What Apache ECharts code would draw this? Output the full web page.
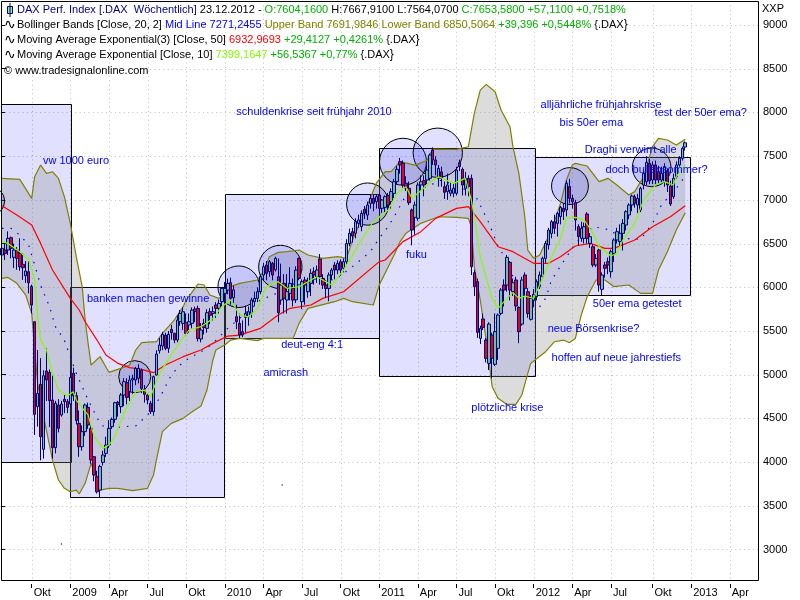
<!DOCTYPE html>
<html lang="de">
  <head>
    <meta charset="UTF-8" />
    <title>DAX Perf. Index</title>
    <script src="https://cdn.jsdelivr.net/npm/echarts@6/dist/echarts.min.js"></script>
    <style>
      html, body { margin: 0; padding: 0; background: #fff; }
    </style>
  </head>
  <body>
    <div id="main" style="width: 800px; height: 600px"></div>
    <script>
      // axis
      var weekCount = 255;
      var tickWeeks = [10, 23, 36, 49, 62, 75, 88, 101, 114, 127, 140, 153, 166, 179, 192, 205, 219, 232, 245];
      var tickLabels = ["Okt", "2009", "Apr", "Jul", "Okt", "2010", "Apr", "Jul", "Okt", "2011", "Apr", "Jul", "Okt", "2012", "Apr", "Jul", "Okt", "2013", "Apr"];
      var priceTicks = [3000, 3500, 4000, 4500, 5000, 5500, 6000, 6500, 7000, 7500, 8000, 8500, 9000];

      // weekly candles: open, close, low, high
      var candles = [
        [6369,6445,6254,6521],[6426,6388,6311,6502],[6426,6559,6370,6640],[6567,6445,6330,6580],[6342,6426,6220,6500],
        [6426,6330,6200,6460],[6388,6235,6190,6560],[6262,6224,6085,6390],[6132,6186,6050,6300],[6178,6052,5930,6300],
        [6010,5797,5700,6030],[5606,4546,4310,5606],[4634,4786,4405,5282],[4889,4290,4020,5190],[4146,4988,4040,5050],
        [5042,4939,4700,5300],[5027,4702,4400,5060],[4710,4165,4040,4990],[4165,4672,4100,4700],[4653,4386,4340,4720],
        [4538,4664,4520,4700],[4718,4691,4560,4770],[4691,4626,4560,4720],[4664,4969,4640,5040],[5015,4756,4700,5080],
        [4760,4474,4430,4800],[4443,4176,4060,4590],[4176,4348,4130,4420],[4348,4653,4300,4670],[4626,4424,4380,4680],
        [4386,4024,3980,4420],[4062,3852,3780,4070],[3833,3660,3640,3900],[3680,3950,3590,3970],[3997,4081,3960,4130],
        [4100,4195,4060,4290],[4195,4386,4160,4480],[4405,4489,4380,4510],[4489,4680,4450,4690],[4683,4660,4520,4700],
        [4634,4767,4560,4790],[4767,4920,4640,4960],[4908,4740,4660,4960],[4805,4939,4700,4990],[4939,4958,4780,5000],
        [4939,5072,4880,5090],[4958,5072,4900,5120],[5053,4843,4790,5070],[4824,4775,4680,4880],[4767,4710,4660,4790],
        [4672,4576,4550,4700],[4576,4977,4530,4990],[4996,5236,4990,5280],[5274,5339,5240,5420],[5328,5461,5280,5490],
        [5453,5301,5280,5480],[5301,5461,5250,5500],[5518,5480,5400,5570],[5473,5396,5360,5480],[5396,5625,5370,5680],
        [5606,5701,5560,5740],[5587,5720,5510,5770],[5598,5472,5450,5700],[5568,5606,5480,5700],[5587,5739,5530,5770],
        [5751,5721,5600,5780],[5758,5415,5380,5790],[5408,5511,5370,5590],[5587,5540,5460,5640],[5530,5709,5480,5750],
        [5721,5680,5580,5760],[5700,5720,5620,5780],[5797,5758,5650,5830],[5760,5815,5700,5860],[5835,5987,5780,6000],
        [5930,5987,5850,6060],[5968,6044,5920,6100],[6052,5873,5800,6110],[5880,5970,5820,6020],[5663,5606,5520,5800],
        [5587,5454,5420,5700],[5492,5454,5430,5620],[5656,5700,5480,5790],[5663,5720,5560,5780],[5701,5854,5650,5880],
        [5835,5873,5780,5950],[5873,5949,5830,6000],[5949,6121,5920,6150],[6140,6235,6080,6280],[6254,6159,6080,6300],
        [6178,6292,6120,6310],[6273,6140,6080,6290],[6200,6330,6180,6350],[6121,5709,5600,6330],[5854,6025,5800,6270],
        [6045,5873,5700,6150],[5854,5949,5700,6150],[5930,6045,5850,6230],[5987,5854,5780,6100],[5856,6197,5820,6240],
        [6330,6102,6080,6340],[5835,6064,5750,6090],[6083,6025,5800,6120],[5949,6064,5880,6110],[6045,6159,5900,6210],
        [6178,6140,6030,6230],[6121,6197,6050,6250],[6323,6121,6030,6380],[6102,6025,5980,6150],[6025,5987,5880,6080],
        [5987,6140,5840,6170],[6140,6197,6090,6220],[6254,6197,6090,6290],[6197,6273,6150,6310],[6292,6197,6130,6320],
        [6216,6292,6170,6330],[6292,6500,6260,6550],[6500,6617,6470,6670],[6636,6586,6510,6680],[6617,6750,6560,6790],
        [6730,6770,6680,6830],[6693,6846,6640,6880],[6891,6846,6780,6930],[6826,6941,6770,6980],[6960,7017,6900,7060],
        [7017,6960,6870,7060],[6979,7036,6900,7060],[7055,6903,6830,7070],[6903,6998,6850,7010],[6915,7036,6860,7050],
        [7050,6940,6870,7080],[6979,7094,6900,7130],[7074,7208,7020,7240],[7208,7349,7180,7390],[7437,7399,7300,7480],
        [7418,7170,7140,7450],[7189,7132,7100,7270],[7132,6968,6940,7210],[6884,6655,6480,6900],[6800,6941,6600,6980],
        [6789,7170,6760,7200],[7170,7208,7100,7280],[7220,7170,7040,7280],[7227,7341,7180,7400],[7246,7513,7220,7530],
        [7570,7456,7400,7600],[7456,7399,7280,7500],[7246,7360,7150,7400],[7320,7246,7150,7380],[7151,7086,7010,7210],
        [7094,7170,7000,7300],[7075,7113,7040,7200],[7075,7132,7030,7190],[7075,7341,7050,7380],[7425,7380,7330,7460],
        [7349,7170,7050,7370],[7132,7246,7050,7320],[7246,7151,7040,7280],[7246,6235,6140,7290],[6167,6006,5900,6200],
        [6064,5484,5420,6100],[5415,5530,5350,5560],[5637,5541,5510,5700],[5396,5187,5140,5420],[5129,5579,5053,5600],
        [5453,5187,4958,5480],[5118,5492,5100,5700],[5301,5682,5170,5700],[5701,5968,5680,5990],[6025,5968,5780,6090],
        [6025,6342,5950,6370],[6285,5968,5850,6300],[5950,6052,5900,6100],[6083,5785,5730,6120],[5770,5492,5360,5780],
        [5579,6083,5560,6120],[6140,5987,5900,6170],[5949,5701,5650,5990],[5633,5873,5620,5910],[5850,5920,5770,5980],
        [5892,6064,5850,6090],[6007,6140,5980,6180],[6121,6330,6100,6350],[6330,6502,6280,6530],[6484,6655,6430,6680],
        [6617,6750,6560,6770],[6750,6674,6610,6830],[6731,6846,6580,6860],[6808,6914,6720,6930],[6903,6865,6770,6960],
        [6884,7189,6810,7220],[7151,7017,6960,7240],[7017,6979,6900,7060],[6968,6769,6650,7000],[6693,6579,6480,6720],
        [6560,6674,6520,6750],[6560,6693,6500,6740],[6838,6560,6500,6860],[6502,6579,6450,6620],[6464,6255,6230,6490],
        [6255,6330,6230,6380],[6426,6026,5950,6440],[5976,6140,5911,6170],[6255,6217,6110,6290],[6293,6255,6150,6340],
        [6178,6407,6110,6430],[6388,6541,6290,6560],[6541,6636,6500,6680],[6522,6617,6470,6720],[6617,6731,6420,6780],
        [6712,6865,6650,6880],[6827,6941,6780,6960],[6941,7044,6870,7060],[7036,6960,6910,7060],[6941,7017,6850,7070],
        [6884,7132,6860,7150],[7170,7303,7120,7340],[7208,7429,7170,7500],[7418,7219,7180,7470],[7227,7399,7180,7440],
        [7399,7227,7180,7450],[7322,7227,7190,7390],[7227,7303,7180,7380],[7208,7380,7150,7420],[7322,7170,7090,7360],
        [7158,6952,6930,7220],[7036,7246,7010,7300],[7265,7399,7240,7440],[7399,7475,7380,7500],[7475,7589,7450,7610],
        [7604,7653,7564,7668]
      ];

      // indicators: [week, value]
      var upperBand = [
        [0,7246],[6,7235],[10,7017],[11,7265],[13,7398],[15,7303],[17,7322],[19,7246],[21,7036],[23,6731],[25,6350],[27,6007],
        [28,5625],[29,5358],[30,5110],[33,5206],[36,5027],[40,5072],[43,5110],[45,5282],[47,5366],[52,5377],[54,5473],[58,5625],
        [61,5778],[62,5854],[66,6037],[68,6026],[70,5912],[73,5873],[77,6007],[80,6044],[86,6083],[88,6178],[90,6350],[93,6399],
        [96,6407],[100,6426],[103,6369],[108,6330],[113,6350],[116,6331],[118,6540],[124,7020],[126,7189],[129,7322],[131,7322],
        [134,7437],[139,7398],[143,7450],[145,7581],[153,7578],[157,7608],[159,7989],[161,8256],[163,8321],[166,8237],[168,8028],
        [171,7837],[172,7608],[174,7303],[176,6807],[177,6426],[179,6331],[181,6369],[185,6655],[188,6960],[190,7227],[192,7398],
        [193,7418],[197,7387],[201,7208],[204,7246],[207,7170],[211,7055],[213,7094],[216,7265],[219,7608],[221,7704],[224,7685],
        [227,7627],[230,7692]
      ];
      var lowerBand = [
        [0,6102],[2,6113],[5,6045],[8,5911],[10,5701],[11,5282],[12,4900],[14,4520],[17,4024],[19,3795],[21,3700],[23,3661],
        [25,3680],[26,3635],[28,3757],[30,3986],[33,3680],[36,3700],[39,3700],[44,3673],[49,3700],[51,3852],[52,4024],[54,4348],
        [57,4443],[61,4500],[64,4577],[67,4641],[69,4824],[71,5168],[72,5282],[75,5339],[77,5396],[80,5415],[86,5389],[88,5415],
        [98,5415],[100,5587],[103,5759],[112,5835],[115,5873],[118,5835],[125,5797],[127,6025],[132,6369],[134,6522],[136,6617],
        [141,6731],[144,6769],[147,6807],[153,6800],[157,6788],[158,6693],[159,6235],[161,5854],[163,5396],[165,4863],[167,4729],
        [170,4660],[173,4660],[175,4767],[177,5015],[178,5129],[179,5156],[183,5263],[186,5377],[189,5396],[191,5366],[193,5415],
        [195,5682],[197,5892],[200,6083],[203,6083],[206,6007],[211,6026],[215,5930],[219,5930],[221,6197],[224,6407],[227,6655],
        [230,6851]
      ];
      var midLine = [
        [0,6674],[3,6674],[6,6597],[9,6483],[11,6254],[13,6025],[16,5778],[18,5549],[21,5396],[23,5206],[25,5015],[29,4710],
        [33,4443],[35,4386],[41,4405],[45,4413],[49,4538],[53,4729],[57,4996],[61,5149],[64,5206],[68,5282],[71,5358],[76,5530],
        [80,5644],[87,5854],[91,5911],[98,6006],[106,6100],[112,6083],[118,6236],[124,6407],[127,6560],[130,6693],[133,6865],
        [136,7055],[143,7151],[148,7227],[159,7074],[164,6731],[167,6464],[170,6311],[172,6121],[176,5911],[181,5778],[183,5873],
        [185,6083],[189,6293],[193,6500],[199,6693],[205,6655],[208,6560],[215,6548],[219,6731],[222,6941],[227,7132],[230,7271]
      ];
      var ema50 = [
        [0,6933],[5,6827],[10,6712],[13,6502],[17,6197],[23,5873],[26,5740],[28,5606],[32,5396],[35,5225],[39,5130],[43,5080],
        [47,5061],[51,5023],[55,5110],[61,5206],[67,5282],[71,5358],[76,5442],[80,5453],[87,5530],[93,5682],[97,5759],[104,5797],
        [108,5873],[115,5949],[127,6293],[129,6312],[135,6522],[141,6636],[146,6788],[153,6903],[157,6922],[161,6750],[167,6464],
        [172,6407],[175,6350],[179,6274],[184,6274],[188,6350],[193,6472],[198,6502],[203,6445],[206,6445],[213,6541],[219,6693],
        [225,6807],[230,6933]
      ];
      var ema10 = [
        [0,6521],[2,6502],[6,6407],[9,6311],[11,6083],[12,5663],[13,5396],[15,5282],[17,5015],[19,4825],[22,4756],[24,4805],
        [25,4710],[28,4577],[29,4539],[31,4291],[34,4157],[36,4195],[38,4291],[41,4557],[45,4805],[48,4824],[50,4748],[53,5015],
        [57,5225],[60,5377],[63,5511],[67,5549],[71,5644],[74,5778],[77,5854],[80,5682],[83,5663],[86,5759],[89,6006],[93,6064],
        [96,5987],[100,6006],[106,6121],[111,6025],[115,6197],[117,6310],[121,6541],[125,6750],[130,6884],[133,7075],[136,7151],
        [138,7017],[140,7075],[145,7227],[147,7265],[152,7189],[156,7246],[158,6998],[159,6807],[161,6350],[165,5873],[167,5758],
        [170,5873],[172,5938],[174,5873],[176,5900],[179,5873],[181,6025],[185,6350],[188,6559],[190,6790],[193,6800],[196,6770],
        [199,6617],[201,6464],[205,6358],[207,6388],[209,6541],[213,6731],[216,7000],[220,7170],[223,7208],[226,7170],[227,7265],
        [230,7399]
      ];

      // drawn annotations: weekFrom, weekTo, priceTop, priceBottom
      var boxes = [
        [-0.5, 23, 8100, 4000],
        [23, 75, 6000, 3595],
        [75, 127, 7072, 5425],
        [127, 179.4, 7590, 4985],
        [179.4, 231.7, 7490, 5910]
      ];
      // week, price, radius in weeks
      var circles = [
        [-3.9, 6986, 4.8],
        [44.7, 4977, 5.4],
        [79.7, 6006, 7],
        [93.7, 6232, 7.3],
        [123.1, 6952, 7.1],
        [135, 7436, 7.9],
        [146.7, 7539, 8.3],
        [191.2, 7158, 6.2],
        [218.7, 7372, 6.5]
      ];
      var notes = [
        [78.9, 8005, "schuldenkrise seit frühjahr 2010"],
        [13.8, 7444, "vw 1000 euro"],
        [28.6, 5865, "banken machen gewinne"],
        [94, 5339, "deut-eng 4:1"],
        [88, 5019, "amicrash"],
        [136, 6369, "fuku"],
        [158, 4618, "plötzliche krise"],
        [181.3, 8085, "alljährliche frühjahrskrise"],
        [187.7, 7879, "bis 50er ema"],
        [219.7, 7993, "test der 50er ema?"],
        [196.2, 7570, "Draghi verwirrt alle"],
        [203.2, 7341, "doch bullensommer?"],
        [198.9, 5808, "50er ema getestet"],
        [183.7, 5522, "neue Börsenkrise?"],
        [185, 5190, "hoffen auf neue jahrestiefs"]
      ];
      var strayDots = [[94.3, 3738], [20, 3063]];

      var textFont = '"Liberation Sans", Arial, sans-serif';
      var categories = [];
      for (var w = 0; w < weekCount; w++) {
        var at = tickWeeks.indexOf(w);
        categories.push(at >= 0 ? tickLabels[at] : "");
      }
      function isTick(i) {
        return tickWeeks.indexOf(i) >= 0;
      }

      function lineSeries(data, color, dash) {
        return {
          type: "line",
          xAxisIndex: 1,
          data: data,
          showSymbol: false,
          z: 4,
          silent: true,
          lineStyle: { color: color, width: 1.2, type: dash || "solid" },
        };
      }

      function headerLine(x, y, text) {
        function s(color) {
          return { fill: color, fontFamily: textFont, fontSize: 11 };
        }
        return {
          type: "text",
          z: 100,
          style: {
            x: x,
            y: y,
            text: text,
            verticalAlign: "middle",
            rich: { n: s("#000080"), k: s("#000"), g: s("#00b000"), b: s("#0000ff"), o: s("#808000"), r: s("#ff0000"), l: s("#80ff00") },
          },
        };
      }

      var myChart = echarts.init(document.getElementById("main"));
      var option = {
        animation: false,
        backgroundColor: "#fff",
        grid: { left: 0.5, top: 1, width: 757.5, height: 579, containLabel: false },
        xAxis: [
          {
            type: "category",
            data: categories,
            offset: 4,
            axisLine: { show: false },
            axisTick: { show: true, length: 4, interval: function (i) { return isTick(i); }, alignWithLabel: true, lineStyle: { color: "#000" } },
            axisLabel: {
              show: true,
              interval: function (i) { return isTick(i); },
              align: "left",
              margin: 3,
              padding: [0, 0, 0, 2],
              color: "#000",
              fontFamily: textFont,
              fontSize: 11,
            },
            splitLine: { show: false },
          },
          { type: "value", min: -0.5, max: weekCount - 0.5, show: false },
        ],
        yAxis: {
          type: "value",
          position: "right",
          min: 2651,
          max: 9275,
          offset: 4,
          axisLine: { show: false },
          axisTick: { show: true, length: 4, customValues: priceTicks, lineStyle: { color: "#000" } },
          axisLabel: {
            show: true,
            customValues: priceTicks,
            margin: 1,
            color: "#000",
            fontFamily: textFont,
            fontSize: 11,
            formatter: function (v) { return String(v); },
          },
          splitLine: { show: false },
        },
        graphic: [
          { type: "rect", z: 100, shape: { x: 1.5, y: 1.5, width: 757, height: 579 }, style: { fill: "none", stroke: "#000", lineWidth: 1 } },
          { type: "rect", z: 100, shape: { x: 7.5, y: 6.5, width: 5, height: 7 }, style: { fill: "#90ee90", stroke: "#000080", lineWidth: 1 } },
          { type: "line", z: 100, shape: { x1: 10, y1: 3, x2: 10, y2: 17 }, style: { stroke: "#000080", lineWidth: 1 } },
          { type: "text", z: 100, style: { x: 4, y: 25, text: "∿", fill: "#000", font: "14px DejaVu Sans", verticalAlign: "middle" } },
          { type: "text", z: 100, style: { x: 4, y: 40, text: "∿", fill: "#000", font: "14px DejaVu Sans", verticalAlign: "middle" } },
          { type: "text", z: 100, style: { x: 4, y: 55, text: "∿", fill: "#000", font: "14px DejaVu Sans", verticalAlign: "middle" } },
          { type: "text", z: 100, style: { x: 762, y: 9, text: "XXP", fill: "#000", font: "11px " + textFont, verticalAlign: "middle" } },
          headerLine(17, 10, "{n|DAX Perf. Index [.DAX  Wöchentlich]}{k| 23.12.2012 - }{g|O:7604,1600}{k| H:7667,9100 L:7564,0700 }{g|C:7653,5800 +57,1100 +0,7518%}"),
          headerLine(17, 25, "{k|Bollinger Bands [Close, 20, 2] }{b|Mid Line 7271,2455 }{o|Upper Band 7691,9846 Lower Band 6850,5064}{g| +39,396 +0,5448% }{k|{.DAX}}"),
          headerLine(17, 40, "{k|Moving Average Exponential(3) [Close, 50] }{r|6932,9693}{g| +29,4127 +0,4261% }{k|{.DAX}}"),
          headerLine(17, 55, "{k|Moving Average Exponential [Close, 10] }{l|7399,1647}{g| +56,5367 +0,77% }{k|{.DAX}}"),
          headerLine(4, 71, "{k|© www.tradesignalonline.com}"),
        ],
        series: [
          // dotted grid
          {
            type: "custom",
            xAxisIndex: 1,
            silent: true,
            z: 1,
            clip: true,
            data: priceTicks,
            renderItem: function (params, api) {
              var a = api.coord([-0.5, priceTicks[params.dataIndex]]);
              var b = api.coord([weekCount - 0.5, priceTicks[params.dataIndex]]);
              return { type: "line", shape: { x1: a[0], y1: Math.round(a[1]) + 0.5, x2: b[0], y2: Math.round(b[1]) + 0.5 }, style: { stroke: "#c0c0c0", lineWidth: 1, lineDash: [1, 3.4] } };
            },
          },
          {
            type: "custom",
            xAxisIndex: 1,
            silent: true,
            z: 1,
            clip: true,
            data: tickWeeks,
            renderItem: function (params, api) {
              var a = api.coord([tickWeeks[params.dataIndex], 9275]);
              var b = api.coord([tickWeeks[params.dataIndex], 2651]);
              return { type: "line", shape: { x1: Math.round(a[0]) + 0.5, y1: a[1], x2: Math.round(b[0]) + 0.5, y2: b[1] }, style: { stroke: "#c0c0c0", lineWidth: 1, lineDash: [1, 3.4] } };
            },
          },
          // shaded boxes
          {
            type: "custom",
            xAxisIndex: 1,
            silent: true,
            z: 2,
            clip: true,
            data: boxes,
            encode: { x: [0, 1], y: [2, 3] },
            renderItem: function (params, api) {
              var a = api.coord([api.value(0), api.value(2)]);
              var b = api.coord([api.value(1), api.value(3)]);
              return {
                type: "rect",
                shape: { x: Math.round(a[0]) + 0.5, y: Math.round(a[1]) + 0.5, width: Math.round(b[0] - a[0]), height: Math.round(b[1] - a[1]) },
                style: { fill: "rgba(0,0,255,0.118)", stroke: "#000", lineWidth: 1 },
              };
            },
          },
          // bollinger band fill
          {
            type: "custom",
            xAxisIndex: 1,
            silent: true,
            z: 3,
            clip: true,
            data: [0],
            renderItem: function (params, api) {
              var pts = upperBand.concat(lowerBand.slice().reverse()).map(function (p) {
                return api.coord(p);
              });
              return { type: "polygon", shape: { points: pts }, style: { fill: "rgba(128,128,128,0.28)" } };
            },
          },
          // circles
          {
            type: "custom",
            xAxisIndex: 1,
            silent: true,
            z: 3,
            clip: true,
            data: circles,
            encode: { x: 0, y: 1 },
            renderItem: function (params, api) {
              var c = api.coord([api.value(0), api.value(1)]);
              var r = api.size([api.value(2), 0])[0];
              return { type: "circle", shape: { cx: c[0], cy: c[1], r: r }, style: { fill: "rgba(0,0,255,0.118)", stroke: "#000", lineWidth: 1 } };
            },
          },
          lineSeries(upperBand, "#808000"),
          lineSeries(lowerBand, "#808000"),
          lineSeries(midLine, "#0000ff", [1.5, 7]),
          lineSeries(ema50, "#ff0000"),
          {
            type: "candlestick",
            xAxisIndex: 0,
            data: candles,
            barWidth: 3,
            z: 5,
            silent: true,
            itemStyle: {
              color: "#70c0a0",
              color0: "#e8001c",
              borderColor: "#000080",
              borderColor0: "#000080",
              borderWidth: 1,
            },
          },
          Object.assign(lineSeries(ema10, "#80ff00"), { z: 6 }),
          {
            type: "scatter",
            xAxisIndex: 1,
            silent: true,
            z: 6,
            symbolSize: 1.5,
            itemStyle: { color: "#000" },
            data: strayDots,
          },
          // text notes
          {
            type: "custom",
            xAxisIndex: 1,
            silent: true,
            z: 7,
            clip: false,
            data: notes,
            encode: { x: 0, y: 1 },
            renderItem: function (params, api) {
              var c = api.coord([notes[params.dataIndex][0], notes[params.dataIndex][1]]);
              return { type: "text", style: { x: c[0], y: c[1], text: notes[params.dataIndex][2], fill: "#0000ff", font: "11px " + textFont, verticalAlign: "middle" } };
            },
          },
        ],
      };
      myChart.setOption(option);
    </script>
  </body>
</html>
